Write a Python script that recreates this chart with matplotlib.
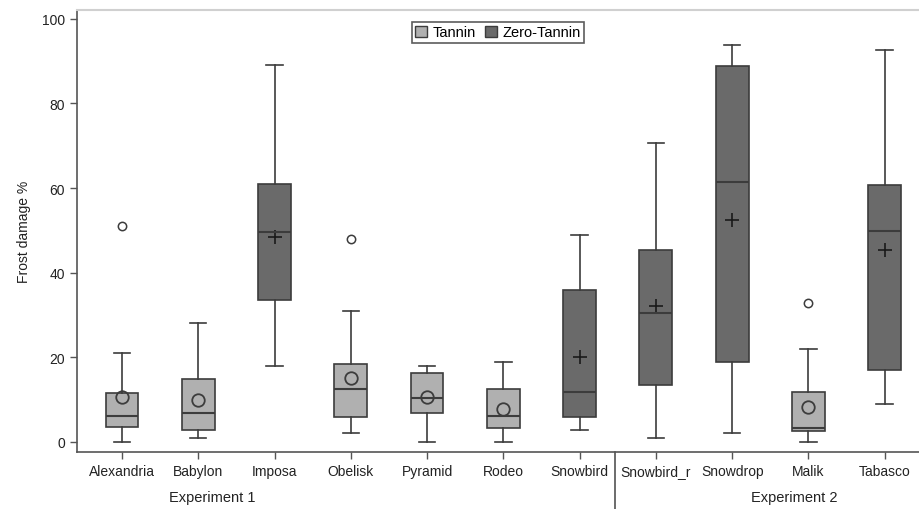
import numpy as np
from matplotlib import pyplot as plt
from matplotlib.patches import Patch

plt.rcParams['font.family'] = ['Liberation Sans', 'DejaVu Sans']

# Datos
cultivares = ['Alexandria', 'Babylon', 'Imposa', 'Obelisk', 'Pyramid', 'Rodeo',
              'Snowbird', 'Snowbird_r', 'Snowdrop', 'Malik', 'Tabasco']
grupo = ['T', 'T', 'Z', 'T', 'T', 'T', 'Z', 'Z', 'Z', 'T', 'Z']
w_bajo = [0, 1, 18, 2, 0, 0, 2.8, 0.9, 2, 0, 9]
q1 = [3.5, 2.8, 33.5, 5.8, 6.9, 3.3, 5.8, 13.4, 18.8, 2.5, 16.9]
mediana = [6.0, 6.9, 49.6, 12.5, 10.4, 6.0, 11.8, 30.4, 61.4, 3.3, 49.8]
q3 = [11.5, 14.9, 61, 18.4, 16.3, 12.5, 35.8, 45.3, 88.9, 11.8, 60.8]
w_alto = [21, 28, 89, 30.9, 18, 18.9, 49, 70.7, 93.9, 21.9, 92.7]
media = [10.5, 9.8, 48.5, 15.1, 10.6, 7.7, 20.0, 32.2, 52.5, 8.3, 45.4]
atipicos = [[51], [], [], [48], [], [], [], [], [], [32.9], []]

claro = '#b0b0b0'
oscuro = '#6a6a6a'
borde = '#3c3c3c'

fig = plt.figure(figsize=(9.19, 5.10), dpi=100)
ax = fig.add_axes([77/919, 1 - 453/510, 1 - 77/919, 442/510])

stats = []
for i in range(len(cultivares)):
    stats.append(dict(whislo=w_bajo[i], q1=q1[i], med=mediana[i], q3=q3[i],
                      whishi=w_alto[i], fliers=atipicos[i], label=cultivares[i]))

pos = np.arange(len(cultivares))
bp = ax.bxp(stats, positions=pos, widths=0.43, patch_artist=True, showfliers=True,
            boxprops=dict(edgecolor=borde, linewidth=1.2),
            medianprops=dict(color=borde, linewidth=1.5),
            whiskerprops=dict(color=borde, linewidth=1.2),
            capprops=dict(color=borde, linewidth=1.2),
            flierprops=dict(marker='o', markersize=6, markerfacecolor='white',
                            markeredgecolor=borde, markeredgewidth=1.1))
for caja, g in zip(bp['boxes'], grupo):
    caja.set_facecolor(claro if g == 'T' else oscuro)

# medias
for i in range(len(cultivares)):
    if grupo[i] == 'T':
        ax.plot(pos[i], media[i], 'o', ms=9, mfc='none', mec=borde, mew=1.3)
    else:
        ax.plot(pos[i], media[i], '+', ms=10, color='#1a1a1a', mew=1.2)

ax.set_xlim(-0.59, 10.45)
ax.set_ylim(-2.4, 102.1)
ax.set_yticks([0, 20, 40, 60, 80, 100])
ax.set_xticks(pos)
ax.set_xticklabels(cultivares)
ax.tick_params(direction='out', length=5, width=1, color='#555555',
               labelsize=10, labelcolor='#222222')
ax.set_ylabel('Frost damage %', fontsize=10, color='#222222', labelpad=8)

for lado in ['left', 'bottom']:
    ax.spines[lado].set_color('#555555')
    ax.spines[lado].set_linewidth(1.2)
ax.spines['top'].set_color('#d0d0d0')
ax.spines['top'].set_linewidth(1.5)
ax.spines['right'].set_visible(False)

# separador y etiquetas de experimento
ax.plot([6.46, 6.46], [-2.4, -16.5], color='#444444', lw=1.1, clip_on=False)
ax.text(1.18, -13.0, 'Experiment 1', ha='center', va='center', fontsize=10.5,
        color='#222222')
ax.text(8.82, -13.0, 'Experiment 2', ha='center', va='center', fontsize=10.5,
        color='#222222')

leyenda = [Patch(facecolor=claro, edgecolor=borde, label='Tannin'),
           Patch(facecolor=oscuro, edgecolor=borde, label='Zero-Tannin')]
ley = ax.legend(handles=leyenda, loc='upper center', bbox_to_anchor=(0.5, 0.98),
                ncol=2, fontsize=10.5, frameon=True, fancybox=False,
                handlelength=0.8, handleheight=0.8, handletextpad=0.4,
                columnspacing=0.6, borderpad=0.25, borderaxespad=0.2)
ley.get_frame().set_edgecolor('#333333')
ley.get_frame().set_linewidth(1.2)

plt.savefig('out.png', dpi=100)
